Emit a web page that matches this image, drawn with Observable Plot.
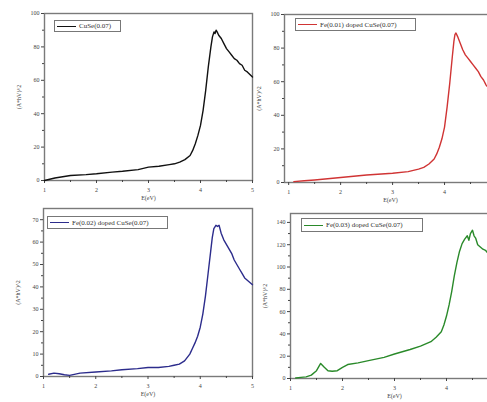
<!DOCTYPE html>
<html>
<head>
<meta charset="utf-8">
<script src="https://cdn.jsdelivr.net/npm/d3@7"></script>
<script src="https://cdn.jsdelivr.net/npm/@observablehq/plot@0.6"></script>
<style>
  body { margin: 0; background: #fff; }
  #wrap { position: relative; width: 487px; height: 402px; overflow: hidden; background: #fff; }
  .panel { position: absolute; }
  .legend { position: absolute; border: 1px solid #777; background: #fff; font: 7px "Liberation Serif", serif; color: #333; display: flex; align-items: center; white-space: nowrap; box-sizing: border-box; }
  .legend .sw { display: inline-block; width: 19px; height: 0; border-top: 1.3px solid; margin: 0 3px 0 2px; }
</style>
</head>
<body>
<div id="wrap"></div>
<script>
// ---- data ----
const xLabel = "E(eV)";
const yLabel = "(A*hV)^2";
const seriesNames = ["CuSe(0.07)", "Fe(0.01) doped CuSe(0.07)", "Fe(0.02) doped CuSe(0.07)", "Fe(0.03) doped CuSe(0.07)"];
const seriesColors = ["#111111", "#d03434", "#2c2c8c", "#2a8a2a"];

const energyCuSe = [1.0,1.2,1.5,1.8,2.0,2.3,2.5,2.8,3.0,3.2,3.4,3.5,3.6,3.7,3.8,3.85,3.9,3.95,4.0,4.05,4.1,4.15,4.2,4.23,4.26,4.28,4.3,4.32,4.35,4.4,4.45,4.5,4.55,4.6,4.65,4.7,4.75,4.8,4.85,4.9,5.0];
const absCuSe    = [0,1.5,3,3.5,4,5,5.5,6.5,8,8.5,9.5,10,11,12.5,15,18,22,27,33,42,54,68,80,86,89,88,90,89,87,85,82,79,77,75,73,72,70,69,66,65,62];

const energyFe01 = [1.1,1.3,1.5,2.0,2.5,3.0,3.3,3.5,3.6,3.7,3.8,3.85,3.9,3.95,4.0,4.05,4.1,4.15,4.18,4.2,4.22,4.25,4.3,4.35,4.4,4.45,4.5,4.55,4.6,4.65,4.7,4.75,4.8,4.85];
const absFe01    = [0.5,1,1.5,3,4.5,5.5,6.5,8,9,11,14,17,21,26,33,45,59,75,84,88,89,87,83,79,76,74,72,70,68,66,63,61,58,56];

const energyFe02 = [1.1,1.2,1.3,1.4,1.5,1.7,2.0,2.3,2.5,2.8,3.0,3.2,3.4,3.5,3.6,3.7,3.8,3.85,3.9,3.95,4.0,4.05,4.1,4.15,4.2,4.23,4.26,4.3,4.33,4.36,4.4,4.45,4.5,4.55,4.6,4.65,4.7,4.75,4.8,4.85,4.9,5.0];
const absFe02    = [1,1.5,1.2,0.8,0.5,1.5,2,2.5,3,3.5,4,4,4.5,5,5.5,7,10,12.5,15,18,22,28,36,46,56,62,66,67.5,67,67.5,64,61,59,57,55,52,50,48,46,44,43,41];

const energyFe03 = [1.1,1.2,1.3,1.4,1.5,1.58,1.65,1.72,1.8,1.9,2.0,2.1,2.3,2.5,2.8,3.0,3.3,3.5,3.7,3.8,3.9,3.95,4.0,4.05,4.1,4.15,4.2,4.25,4.3,4.35,4.4,4.43,4.46,4.5,4.53,4.56,4.6,4.65,4.7,4.75,4.8,4.85];
const absFe03    = [0.5,1,1.5,3,7,13.5,10,7,6.5,7,10,12.5,14,16,19,22,26,29,33,37,42,48,56,66,78,92,104,114,121,125,128,124,130,133,128,126,120,118,116,115,112,108];

const xTicksFull = [1,2,3,4,5];
const xTicksCut = [1,2,3,4];
const xMinor = [1.5,2.5,3.5,4.5];
const yTicks100 = [0,20,40,60,80,100];
const yMinor100 = [10,30,50,70,90];
const yTicks75 = [0,10,20,30,40,50,60,70];
const yMinor75 = [5,15,25,35,45,55,65];
const yTicks148 = [0,20,40,60,80,100,120,140];
const yMinor148 = [10,30,50,70,90,110,130];

// ---- layout of panels ----
const panels = [
  {left:0, top:0, width:260, height:205, mL:44, mR:8, mT:13, mB:25, xd:[1,5], xt:xTicksFull, yd:[0,100], yt:yTicks100, ym:yMinor100, E:energyCuSe, V:absCuSe, s:0,
   leg:{left:54, top:20, width:67, height:12}},
  {left:245, top:0, width:260, height:205, mL:39, mR:9, mT:14, mB:23, xd:[0.92,5], xt:xTicksCut, yd:[0,100], yt:yTicks100, ym:yMinor100, E:energyFe01, V:absFe01, s:1,
   leg:{left:295, top:18, width:121, height:13}},
  {left:0, top:200, width:260, height:202, mL:43, mR:8, mT:8, mB:26, xd:[1,5], xt:xTicksFull, yd:[0,75], yt:yTicks75, ym:yMinor75, E:energyFe02, V:absFe02, s:2,
   leg:{left:47, top:216, width:121, height:13}},
  {left:245, top:200, width:260, height:202, mL:45, mR:7, mT:13, mB:24, xd:[1,5], xt:xTicksCut, yd:[0,148], yt:yTicks148, ym:yMinor148, E:energyFe03, V:absFe03, s:3,
   leg:{left:301, top:218, width:122, height:14}}
];

const wrap = document.getElementById("wrap");
for (const p of panels) {
  const data = p.E.map((e, i) => ({e, v: p.V[i]}));
  const chart = Plot.plot({
    width: p.width, height: p.height,
    marginLeft: p.mL, marginRight: p.mR, marginTop: p.mT, marginBottom: p.mB,
    style: {fontFamily: "Liberation Serif, serif", fontSize: "6px", color: "#444", background: "transparent"},
    x: {domain: p.xd},
    y: {domain: p.yd},
    marks: [
      Plot.frame({stroke: "#7a7a7a", strokeWidth: 1.4}),
      Plot.axisX({ticks: p.xt, tickSize: 3, tickPadding: 4, tickFormat: d3.format("d"), label: xLabel, labelAnchor: "center", labelOffset: 19, labelArrow: "none", fontSize: 6}),
      Plot.axisX({ticks: xMinor, tickSize: 2, tickFormat: () => "", label: null}),
      Plot.axisY({ticks: p.yt, tickSize: 3, tickPadding: 2, label: yLabel, labelAnchor: "center", labelOffset: 28, labelArrow: "none", fontSize: 6}),
      Plot.axisY({ticks: p.ym, tickSize: 2, tickFormat: () => "", label: null}),
      Plot.line(data, {x: "e", y: "v", stroke: seriesColors[p.s], strokeWidth: 1.4, curve: "linear"})
    ]
  });
  chart.classList.add("panel");
  chart.style.left = p.left + "px";
  chart.style.top = p.top + "px";
  wrap.appendChild(chart);

  const lg = document.createElement("div");
  lg.className = "legend";
  Object.assign(lg.style, {left: p.leg.left + "px", top: p.leg.top + "px", width: p.leg.width + "px", height: p.leg.height + "px"});
  const sw = document.createElement("span");
  sw.className = "sw";
  sw.style.borderTopColor = seriesColors[p.s];
  lg.appendChild(sw);
  lg.appendChild(document.createTextNode(seriesNames[p.s]));
  wrap.appendChild(lg);
}
</script>
</body>
</html>
